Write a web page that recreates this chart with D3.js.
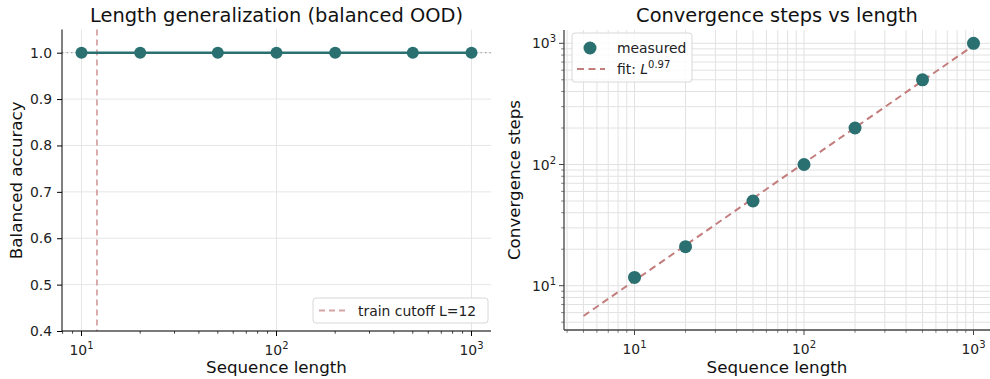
<!DOCTYPE html>
<html><head><meta charset="utf-8">
<script src="https://cdn.jsdelivr.net/npm/d3@7"></script>
<style>
body{margin:0;background:#fff;}
svg{font-family:"DejaVu Sans",sans-serif;}
</style></head>
<body><svg id="c" width="990" height="379"></svg>
<script>
const lengths = [10, 20, 50, 100, 200, 500, 1000];
const balancedAcc = [1.0, 1.0, 1.0, 1.0, 1.0, 1.0, 1.0];
const convSteps = [11.7, 21, 50, 100, 200, 500, 1000];
const fitX = [5, 1000];
const fitExp = 0.97;
const fitCoef = 1.18;
const trainCutoff = 12;
const accTicks = [0.4, 0.5, 0.6, 0.7, 0.8, 0.9, 1.0];
const logTicks = [10, 100, 1000];

const teal = "#2a7070";
const rose = "#c47d7d";
const svg = d3.select("#c");
const TICK = 13.9, LAB = 16.7, TTL = 19.4;

function supLabel(g, x, y, exp, anchor, size) {
  const t = g.append("text").attr("x", x).attr("y", y).attr("text-anchor", anchor)
    .attr("font-size", size).attr("fill", "#222");
  t.append("tspan").text("10");
  t.append("tspan").attr("dy", -6).attr("font-size", size * 0.72).text(exp);
  return t;
}
function minorVals(lo, hi) {
  const out = [];
  for (let d = Math.floor(Math.log10(lo)); d <= Math.ceil(Math.log10(hi)); d++)
    for (let m = 2; m <= 9; m++) { const v = m * Math.pow(10, d); if (v >= lo && v <= hi) out.push(v); }
  return out;
}

// ---------- Left panel ----------
{
  const L = 62, R = 491, T = 29.5, B = 331;
  const x = d3.scaleLog().domain([Math.pow(10, 0.9), Math.pow(10, 3.1)]).range([L, R]);
  const y = d3.scaleLinear().domain([0.4, 1.05]).range([B, T]);
  const g = svg.append("g");
  g.selectAll(".gy").data(accTicks).join("line").attr("x1", L).attr("x2", R)
    .attr("y1", d => y(d)).attr("y2", d => y(d)).attr("stroke", "#e6e6e6").attr("stroke-width", 1);
  g.selectAll(".gx").data(logTicks).join("line").attr("x1", d => x(d)).attr("x2", d => x(d))
    .attr("y1", T).attr("y2", B).attr("stroke", "#e6e6e6").attr("stroke-width", 1);
  g.append("line").attr("x1", L).attr("x2", R).attr("y1", y(1)).attr("y2", y(1))
    .attr("stroke", "#aaa").attr("stroke-width", 1.3).attr("stroke-dasharray", "1.5,3");
  g.append("line").attr("x1", x(trainCutoff)).attr("x2", x(trainCutoff)).attr("y1", T).attr("y2", B)
    .attr("stroke", rose).attr("stroke-opacity", 0.7).attr("stroke-width", 1.8).attr("stroke-dasharray", "6,4");
  const line = d3.line().x((d, i) => x(lengths[i])).y(d => y(d));
  g.append("path").datum(balancedAcc).attr("d", line).attr("fill", "none")
    .attr("stroke", teal).attr("stroke-width", 2.5);
  g.selectAll(".pt").data(balancedAcc).join("circle").attr("cx", (d, i) => x(lengths[i]))
    .attr("cy", d => y(d)).attr("r", 6).attr("fill", teal);
  const yAx = g.append("g").attr("transform", `translate(${L},0)`)
    .call(d3.axisLeft(y).tickValues(accTicks).tickFormat(d3.format(".1f")).tickSize(5).tickPadding(5));
  yAx.select(".domain").attr("stroke", "#000").attr("d", `M0,${B}V${T}`);
  yAx.selectAll("text").attr("font-size", TICK).attr("fill", "#222").attr("font-family", "DejaVu Sans");
  const xAx = g.append("g").attr("transform", `translate(0,${B})`);
  xAx.append("line").attr("x1", L).attr("x2", R).attr("stroke", "#000");
  logTicks.forEach(v => {
    xAx.append("line").attr("x1", x(v)).attr("x2", x(v)).attr("y2", 5).attr("stroke", "#000");
    supLabel(xAx, x(v), 24, String(Math.round(Math.log10(v))), "middle", TICK);
  });
  minorVals(x.domain()[0], x.domain()[1]).forEach(v => {
    xAx.append("line").attr("x1", x(v)).attr("x2", x(v)).attr("y2", 2.8).attr("stroke", "#000").attr("stroke-width", 0.7);
  });
  svg.append("text").attr("x", (L + R) / 2).attr("y", 22).attr("text-anchor", "middle")
    .attr("font-size", TTL).attr("fill", "#111").text("Length generalization (balanced OOD)");
  svg.append("text").attr("x", (L + R) / 2).attr("y", 373).attr("text-anchor", "middle")
    .attr("font-size", LAB).attr("fill", "#111").text("Sequence length");
  svg.append("text").attr("transform", `translate(22,${(T + B) / 2}) rotate(-90)`).attr("text-anchor", "middle")
    .attr("font-size", LAB).attr("fill", "#111").text("Balanced accuracy");
  const lg = svg.append("g").attr("transform", "translate(313,298)");
  lg.append("rect").attr("width", 175).attr("height", 25).attr("rx", 3).attr("fill", "#fff")
    .attr("fill-opacity", 0.85).attr("stroke", "#d8d8d8");
  lg.append("line").attr("x1", 6).attr("x2", 34).attr("y1", 12.5).attr("y2", 12.5).attr("stroke", rose)
    .attr("stroke-opacity", 0.7).attr("stroke-width", 1.8).attr("stroke-dasharray", "6,4");
  lg.append("text").attr("x", 45).attr("y", 17.5).attr("font-size", TICK).attr("fill", "#222").text("train cutoff L=12");
}

// ---------- Right panel ----------
{
  const L = 564, T = 30, B = 330;
  const x = d3.scaleLog().domain([Math.pow(10, 0.584), Math.pow(10, 3.115)]).range([L, L + (3.115 - 0.584) * 169.5]);
  const R = 990;
  const dec = 121.2;
  const y = d3.scaleLog().domain([Math.pow(10, 1 - (B - 285.7) / dec), Math.pow(10, 3 + (43.3 - T) / dec)]).range([B, T]);
  const g = svg.append("g");
  const defs = svg.append("defs");
  defs.append("clipPath").attr("id", "rc").append("rect").attr("x", L).attr("y", T).attr("width", R - L).attr("height", B - T);
  const gc = g.append("g").attr("clip-path", "url(#rc)");
  const xMin = minorVals(x.domain()[0], x.domain()[1]);
  const yMin = minorVals(y.domain()[0], y.domain()[1]);
  const gridX = xMin.concat(logTicks);
  const gridY = yMin.concat(logTicks);
  gc.selectAll(".gx").data(gridX).join("line").attr("x1", d => x(d)).attr("x2", d => x(d))
    .attr("y1", T).attr("y2", B).attr("stroke", "#e2e2e2").attr("stroke-width", 1);
  gc.selectAll(".gy").data(gridY).join("line").attr("x1", L).attr("x2", R)
    .attr("y1", d => y(d)).attr("y2", d => y(d)).attr("stroke", "#e2e2e2").attr("stroke-width", 1);
  const fitLine = d3.line().x(d => x(d)).y(d => y(fitCoef * Math.pow(d, fitExp)));
  gc.append("path").datum(fitX).attr("d", fitLine).attr("fill", "none").attr("stroke", rose)
    .attr("stroke-width", 2).attr("stroke-dasharray", "7,4.5");
  g.selectAll(".pt").data(convSteps).join("circle").attr("cx", (d, i) => x(lengths[i]))
    .attr("cy", d => y(d)).attr("r", 6.5).attr("fill", teal);
  const ax = g.append("g");
  ax.append("line").attr("x1", L).attr("x2", L).attr("y1", T).attr("y2", B).attr("stroke", "#444").attr("stroke-width", 1.3);
  ax.append("line").attr("x1", L).attr("x2", R).attr("y1", B).attr("y2", B).attr("stroke", "#444").attr("stroke-width", 1.3);
  logTicks.forEach(v => {
    ax.append("line").attr("x1", x(v)).attr("x2", x(v)).attr("y1", B).attr("y2", B + 5).attr("stroke", "#444");
    supLabel(ax, x(v), B + 24, String(Math.round(Math.log10(v))), "middle", TICK);
    ax.append("line").attr("x1", L - 5).attr("x2", L).attr("y1", y(v)).attr("y2", y(v)).attr("stroke", "#444");
    supLabel(ax, L - 8, y(v) + 5, String(Math.round(Math.log10(v))), "end", TICK);
  });
  xMin.forEach(v => ax.append("line").attr("x1", x(v)).attr("x2", x(v)).attr("y1", B).attr("y2", B + 2.8).attr("stroke", "#444").attr("stroke-width", 0.7));
  yMin.forEach(v => ax.append("line").attr("x1", L - 2.8).attr("x2", L).attr("y1", y(v)).attr("y2", y(v)).attr("stroke", "#444").attr("stroke-width", 0.7));
  svg.append("text").attr("x", 777).attr("y", 22).attr("text-anchor", "middle")
    .attr("font-size", TTL).attr("fill", "#111").text("Convergence steps vs length");
  svg.append("text").attr("x", 777).attr("y", 373).attr("text-anchor", "middle")
    .attr("font-size", LAB).attr("fill", "#111").text("Sequence length");
  svg.append("text").attr("transform", `translate(520,${(T + B) / 2}) rotate(-90)`).attr("text-anchor", "middle")
    .attr("font-size", LAB).attr("fill", "#111").text("Convergence steps");
  const lg = svg.append("g").attr("transform", "translate(572,33)");
  lg.append("rect").attr("width", 120).attr("height", 49).attr("rx", 3).attr("fill", "#fff")
    .attr("fill-opacity", 0.85).attr("stroke", "#d8d8d8");
  lg.append("circle").attr("cx", 18).attr("cy", 15).attr("r", 6.5).attr("fill", teal);
  lg.append("text").attr("x", 45).attr("y", 20).attr("font-size", TICK).attr("fill", "#222").text("measured");
  lg.append("line").attr("x1", 5).attr("x2", 33).attr("y1", 36).attr("y2", 36).attr("stroke", rose)
    .attr("stroke-width", 2).attr("stroke-dasharray", "7,4.5");
  const ft = lg.append("text").attr("x", 45).attr("y", 41).attr("font-size", TICK).attr("fill", "#222");
  ft.append("tspan").text("fit: ");
  ft.append("tspan").attr("font-style", "italic").text("L");
  ft.append("tspan").attr("dy", -6).attr("font-size", 10).text("0.97");
}
</script></body></html>
